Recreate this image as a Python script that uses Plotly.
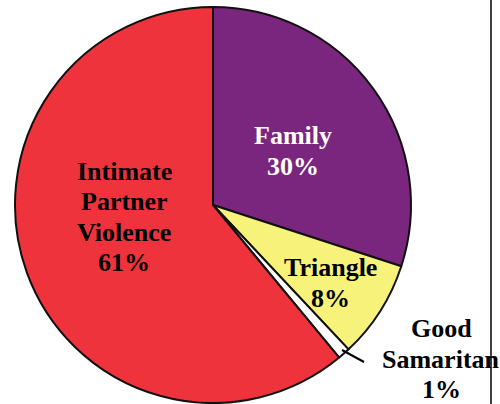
import plotly.graph_objects as go

categories = ["Family", "Triangle", "Good Samaritan", "Intimate Partner Violence"]
shares = [30, 8, 1, 61]
slice_colors = ["#7B267E", "#F7F27A", "#FFFFFF", "#EF333C"]

# label text lines and block centres (pixels from top-left), text colours
label_lines = [["Family"], ["Triangle"], ["Good", "Samaritan"], ["Intimate", "Partner", "Violence"]]
label_centres = [(293, 151), (330, 283), (441, 359), (124, 217)]
label_colors = ["white", "black", "black", "black"]
LINE_H = 30.5
W, H = 500, 404

fig = go.Figure(go.Pie(
    labels=categories,
    values=shares,
    sort=False,
    direction="clockwise",
    rotation=0,
    marker=dict(colors=slice_colors, line=dict(color="#111111", width=2)),
    textinfo="none",
    hoverinfo="label+percent",
    domain=dict(x=[15/W, 411/W], y=[1-403/H, 1-7/H]),
    showlegend=False,
))

annotations = []
for lines, pct, (cx, cy), c in zip(label_lines, shares, label_centres, label_colors):
    all_lines = lines + [f"{pct}%"]
    n = len(all_lines)
    for i, t in enumerate(all_lines):
        py = cy + (i - (n - 1) / 2) * LINE_H
        annotations.append(dict(
            x=cx / W, y=1 - py / H, xref="paper", yref="paper", text=f"<b>{t}</b>",
            showarrow=False,
            font=dict(family="Liberation Serif", size=26, color=c),
            xanchor="center", yanchor="middle", align="center",
        ))

fig.update_layout(
    width=W, height=H,
    margin=dict(l=0, r=0, t=0, b=0),
    paper_bgcolor="white", plot_bgcolor="white",
    annotations=annotations,
    shapes=[
        dict(type="line", xref="paper", yref="paper", x0=491/W, x1=491/W, y0=0, y1=1,
             line=dict(color="black", width=1.5)),
        dict(type="line", xref="paper", yref="paper", x0=342/W, y0=1-350/H, x1=364/W, y1=1-362/H,
             line=dict(color="black", width=2)),
    ],
)
fig.write_html("out.html", config={"displayModeBar": False},
               post_script="document.body.style.margin='0';")
